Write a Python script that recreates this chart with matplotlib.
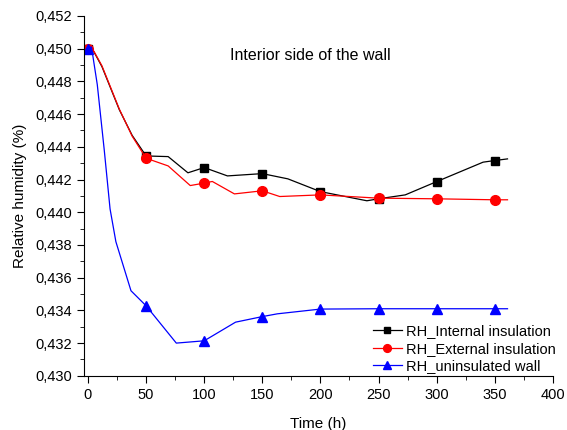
import numpy as np
import matplotlib.pyplot as plt
from matplotlib.ticker import MultipleLocator, FuncFormatter

plt.rcParams['font.family'] = ['Liberation Sans', 'DejaVu Sans']

# RH_Internal insulation
t_int = [0, 5, 12, 27, 38, 50, 69, 86, 100, 120, 150, 172, 200, 240, 250, 273, 300, 340, 350, 361]
rh_int = [0.4500, 0.44982, 0.44890, 0.44626, 0.44470, 0.44344, 0.44340, 0.44241, 0.44273, 0.44222,
          0.44236, 0.44204, 0.44126, 0.44070, 0.44082, 0.44106, 0.44187, 0.44306, 0.44316, 0.44326]

# RH_External insulation
t_ext = [0, 5, 12, 27, 38, 50, 69, 88, 100, 107, 126, 150, 165, 200, 250, 300, 350, 361]
rh_ext = [0.4500, 0.44985, 0.44895, 0.44630, 0.44465, 0.44330, 0.44283, 0.44163, 0.44178, 0.44188,
          0.44112, 0.44131, 0.44096, 0.44106, 0.44086, 0.44082, 0.44076, 0.44076]

# RH_uninsulated wall
t_un = [0, 3, 8, 14, 19, 24, 37, 50, 76, 100, 127, 150, 163, 200, 250, 300, 350, 361]
rh_un = [0.4500, 0.4501, 0.4478, 0.4438, 0.4402, 0.4382, 0.4352, 0.43428, 0.43200, 0.43214,
         0.43328, 0.43362, 0.43379, 0.43408, 0.43410, 0.43410, 0.43410, 0.43410]


def marks(t):
    return [i for i, v in enumerate(t) if v % 50 == 0]


fig = plt.figure(figsize=(5.67, 4.30), dpi=100)
ax = fig.add_axes([0.148, 0.126, 0.827, 0.837])

ax.plot(t_int, rh_int, color='black', lw=0.9, marker='s', ms=6,
        markevery=marks(t_int), label='RH_Internal insulation')
ax.plot(t_ext, rh_ext, color='red', lw=0.9, marker='o', ms=7,
        markevery=marks(t_ext), label='RH_External insulation')
ax.plot(t_un, rh_un, color='blue', lw=0.9, marker='^', ms=7.5,
        markevery=marks(t_un), label='RH_uninsulated wall')

ax.set_xlim(-3.5, 400)
ax.set_ylim(0.430, 0.452)
ax.xaxis.set_major_locator(MultipleLocator(50))
ax.xaxis.set_minor_locator(MultipleLocator(25))
ax.yaxis.set_major_locator(MultipleLocator(0.002))
ax.yaxis.set_minor_locator(MultipleLocator(0.001))
ax.yaxis.set_major_formatter(FuncFormatter(lambda v, p: f'{v:.3f}'.replace('.', ',')))

for s in ['top', 'right']:
    ax.spines[s].set_visible(False)
ax.tick_params(which='both', direction='out', labelsize=10.5)
ax.tick_params(which='major', length=5)
ax.tick_params(which='minor', length=3)

ax.set_xlabel('Time (h)', fontsize=11, labelpad=11)
ax.set_ylabel('Relative humidity (%)', fontsize=11, labelpad=6)
ax.text(191, 0.4496, 'Interior side of the wall', fontsize=11.5, ha='center', va='center')

ax.legend(loc='lower right', bbox_to_anchor=(1.035, -0.03), frameon=False, fontsize=10.5,
          handlelength=2.0, labelspacing=0.25, handletextpad=0.3, markerscale=0.8)

fig.savefig('out.png', dpi=100)
